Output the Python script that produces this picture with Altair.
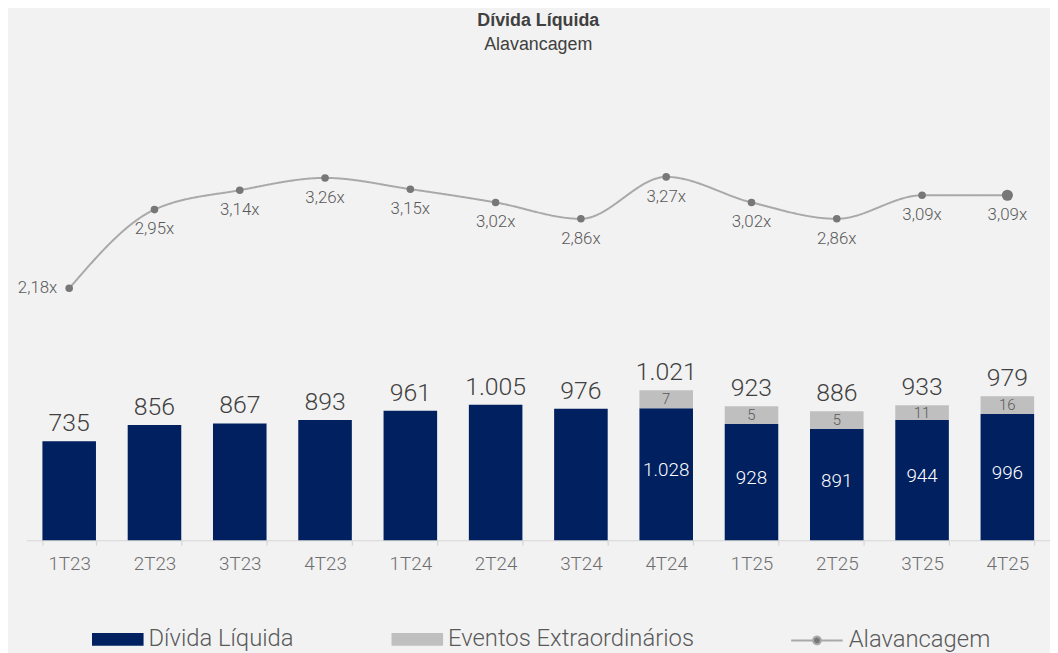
import altair as alt
import pandas as pd

# ---- data ----
quarters = ["1T23", "2T23", "3T23", "4T23", "1T24", "2T24",
            "3T24", "4T24", "1T25", "2T25", "3T25", "4T25"]
# bar segment heights as drawn
divida_bar = [735, 856, 867, 893, 961, 1005, 976, 980, 862, 825, 892, 936]
eventos_bar = [0, 0, 0, 0, 0, 0, 0, 133, 133, 133, 110, 133]
# printed labels
total_labels = ["735", "856", "867", "893", "961", "1.005",
                "976", "1.021", "923", "886", "933", "979"]
divida_labels = ["", "", "", "", "", "", "", "1.028", "928", "891", "944", "996"]
eventos_labels = ["", "", "", "", "", "", "", "7", "5", "5", "11", "16"]
alavancagem = [2.18, 2.95, 3.14, 3.26, 3.15, 3.02, 2.86, 3.27, 3.02, 2.86, 3.09, 3.09]

series = ["Dívida Líquida", "Eventos Extraordinários"]
series_colors = ["#002060", "#bfbfbf"]

# ---- tables ----
long_rows = []
for i, q in enumerate(quarters):
    long_rows.append({"q": q, "serie": series[0], "ord": 0, "v": divida_bar[i]})
    long_rows.append({"q": q, "serie": series[1], "ord": 1, "v": eventos_bar[i]})
bars_df = pd.DataFrame(long_rows)

wide_df = pd.DataFrame({
    "q": quarters,
    "navy": divida_bar,
    "grey": eventos_bar,
    "total_lbl": total_labels,
    "navy_lbl": divida_labels,
    "grey_lbl": eventos_labels,
    "alav": alavancagem,
    "alav_lbl": [f"{v:.2f}".replace(".", ",") + "x" for v in alavancagem],
})

BAR_DOMAIN = [0, 3532]
LINE_DOMAIN = [-0.284, 4.372]
FONT = "Roboto"

x_enc = alt.X(
    "q:N", sort=quarters, title=None,
    scale=alt.Scale(paddingInner=0.372, paddingOuter=0.186),
    axis=alt.Axis(labelAngle=0, labelFont=FONT, labelFontSize=19, labelFontWeight=300,
                  labelColor="#6e6e6e", labelPadding=10, tickSize=5,
                  tickColor="#d6d6d6", domainColor="#d6d6d6", tickBand="extent",
                  grid=False, domainWidth=1.2, tickWidth=1.2),
)

bar_scale = alt.Scale(domain=BAR_DOMAIN, nice=False, zero=False)
line_scale = alt.Scale(domain=LINE_DOMAIN, nice=False, zero=False)

bars = alt.Chart(bars_df).mark_bar().encode(
    x=x_enc,
    y=alt.Y("v:Q", stack="zero", scale=bar_scale, axis=None),
    order=alt.Order("ord:Q", sort="ascending"),
    color=alt.Color(
        "serie:N",
        scale=alt.Scale(domain=series, range=series_colors),
        legend=alt.Legend(
            title=None, orient="none", direction="horizontal",
            legendX=66, legendY=554, padding=0,
            symbolType="M-1,-0.25H1V0.25H-1Z", symbolSize=2704,
            symbolStrokeWidth=0, labelFont=FONT, labelFontSize=24,
            labelFontWeight=300, labelColor="#595959", labelOffset=5,
            columnPadding=98, labelLimit=400,
        ),
    ),
)

base = alt.Chart(wide_df)

top_text = base.mark_text(
    baseline="alphabetic", dy=-10, font=FONT, fontSize=25, fontWeight=300, color="#404040"
).transform_calculate(tot="datum.navy + datum.grey").encode(
    x=x_enc, y=alt.Y("tot:Q", scale=bar_scale, axis=None), text="total_lbl:N"
)

navy_text = base.mark_text(
    baseline="middle", dy=-4, font=FONT, fontSize=19, fontWeight=300, color="#ffffff"
).transform_calculate(mid="datum.navy / 2").encode(
    x=x_enc, y=alt.Y("mid:Q", scale=bar_scale, axis=None), text="navy_lbl:N"
)

grey_text = base.mark_text(
    baseline="middle", dy=0, font=FONT, fontSize=15, fontWeight=300, color="#595959"
).transform_calculate(gmid="datum.navy + datum.grey / 2").encode(
    x=x_enc, y=alt.Y("gmid:Q", scale=bar_scale, axis=None), text="grey_lbl:N"
)

bar_layers = alt.layer(bars, top_text, navy_text, grey_text)

y_line = alt.Y("alav:Q", scale=line_scale, axis=None)

line = base.mark_line(interpolate="monotone", color="#a9a9a9", strokeWidth=2).transform_calculate(
    leg="'Alavancagem'"
).encode(
    x=x_enc, y=y_line,
    strokeDash=alt.StrokeDash(
        "leg:N",
        scale=alt.Scale(domain=["Alavancagem"], range=[[1, 0]]),
        legend=alt.Legend(
            title=None, orient="none", direction="horizontal",
            legendX=770, legendY=554, padding=0,
            symbolType="M-1,0H-0.17M0.17,0H1M-0.15,0A0.15,0.15,0,1,1,0.15,0A0.15,0.15,0,1,1,-0.15,0Z",
            symbolSize=2704, symbolStrokeColor="#a9a9a9", symbolFillColor="#777777",
            symbolStrokeWidth=2, labelFont=FONT, labelFontSize=24, labelFontWeight=300,
            labelColor="#595959", labelOffset=5, labelLimit=400,
        ),
    ),
)

points = base.mark_circle(color="#777777", opacity=1, size=58).transform_filter(
    alt.datum.q != quarters[-1]
).encode(x=x_enc, y=y_line)

last_point = base.mark_circle(color="#777777", opacity=1, size=125).transform_filter(
    alt.datum.q == quarters[-1]
).encode(x=x_enc, y=y_line)

first_label = base.mark_text(
    align="right", baseline="middle", dx=-12, font=FONT, fontSize=17, fontWeight=300, color="#595959"
).transform_filter(alt.datum.q == quarters[0]).encode(x=x_enc, y=y_line, text="alav_lbl:N")

other_labels = base.mark_text(
    align="center", baseline="middle", dy=20, font=FONT, fontSize=17, fontWeight=300, color="#595959"
).transform_filter(alt.datum.q != quarters[0]).encode(x=x_enc, y=y_line, text="alav_lbl:N")

line_layers = alt.layer(line, points, last_point, first_label, other_labels)

chart = alt.layer(bar_layers, line_layers).resolve_scale(
    y="independent"
).properties(
    width=1032,
    height=480,
    autosize=alt.AutoSizeParams(type="none"),
    padding={"left": 18.7, "top": 54, "right": 0, "bottom": 111},
    background="#f2f2f2",
    title=alt.TitleParams(
        "Dívida Líquida", subtitle="Alavancagem", anchor="middle", frame="group",
        font="Liberation Sans", fontSize=18, fontWeight="bold", color="#404040",
        subtitleFont="Liberation Sans", subtitleFontSize=18, subtitleColor="#404040",
        subtitlePadding=7, offset=10,
    ),
).configure_view(stroke=None)

chart.save("out.html", embed_options={"renderer": "svg", "actions": False})
